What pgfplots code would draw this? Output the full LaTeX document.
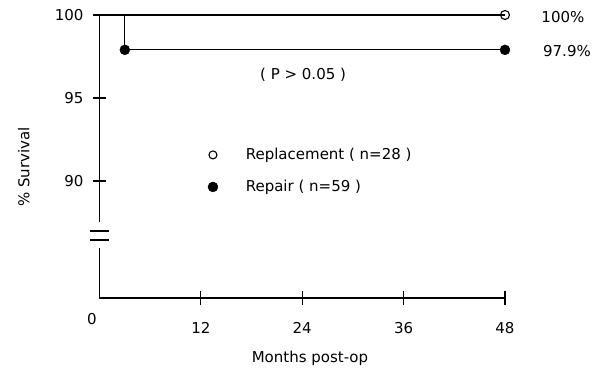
\documentclass[border=0pt]{standalone}
\usepackage{fontspec}
\setmainfont{DejaVu Sans}
\usepackage{pgfplots}
\pgfplotsset{compat=1.18}
\begin{document}
\begin{tikzpicture}[font=\fontsize{15bp}{17bp}\selectfont]
\begin{axis}[
  scale only axis, width=405.5bp, height=283bp,
  at={(0,0)}, anchor=south west,
  xmin=0, xmax=48, ymin=82.95, ymax=100,
  axis x line*=bottom, axis y line*=left,
  x axis line style={-, line width=1.2bp},
  y axis line style={draw=none},
  xtick={12,24,36,48}, ytick={90,95,100},
  tick align=center, major tick length=13bp,
  tick style={black, line width=1.2bp},
  /pgf/number format/assume math mode=true,
  xticklabel style={yshift=-14bp},
  yticklabel style={xshift=-6bp},
  xlabel={Months post-op}, ylabel={\% Survival},
  xlabel style={at={(axis description cs:0.519,-0.212)}, anchor=center},
  ylabel style={at={(axis description cs:-0.187,0.463)}, anchor=center},
  clip=false,
]
% y axis line with break
\draw[line width=1.2bp] (axis cs:0,100) -- (axis cs:0,87.53);
\draw[line width=1.2bp] (axis cs:0,85.96) -- (axis cs:0,82.95);
\draw[line width=1.2bp] (axis cs:-1.07,86.99) -- (axis cs:1.07,86.99);
\draw[line width=1.2bp] (axis cs:-1.07,86.44) -- (axis cs:1.07,86.44);
\node at (axis cs:-0.89,81.68) {0};
% Replacement
\addplot[black, line width=1.2bp, mark=none] coordinates {(0,100) (48,100)};
\addplot[only marks, mark=o, mark size=4.5bp, mark options={fill=white, line width=1.1bp}] coordinates {(48,100)};
% Repair
\addplot[black, line width=1.2bp, mark=none] coordinates {(0,100) (3,100) (3,97.9) (48,97.9)};
\addplot[only marks, mark=*, mark size=5bp, black] coordinates {(3,97.9) (48,97.9)};
% labels
\node[anchor=west] at (axis cs:51.9,99.88) {100\%};
\node[anchor=west] at (axis cs:52.1,97.8) {97.9\%};
\node at (axis cs:24.1,96.4) {( P > 0.05 )};
% legend
\addplot[only marks, mark=o, mark size=4bp, mark options={line width=1.1bp}] coordinates {(13.43,91.57)};
\addplot[only marks, mark=*, mark size=5bp, black] coordinates {(13.43,89.64)};
\node[anchor=west] at (axis cs:16.9,91.57) {Replacement ( n=28 )};
\node[anchor=west] at (axis cs:16.9,89.64) {Repair ( n=59 )};
\end{axis}
\pgfresetboundingbox
\path[use as bounding box] (-99.5bp,-73bp) rectangle (498.5bp,298bp);
\end{tikzpicture}
\end{document}
